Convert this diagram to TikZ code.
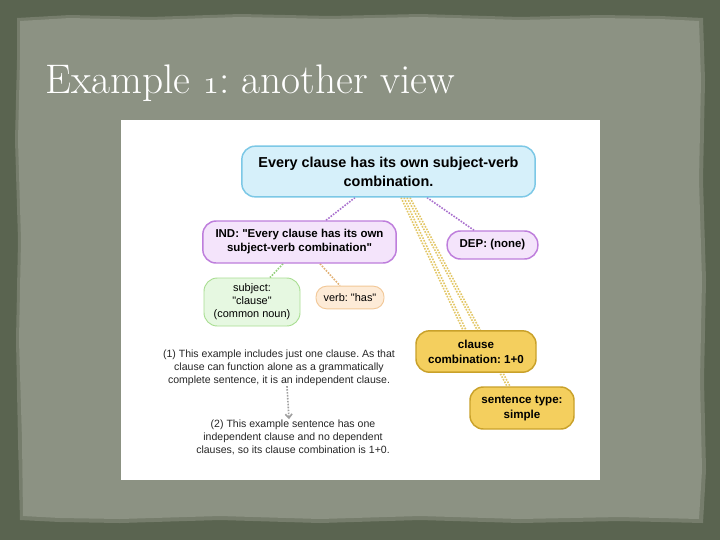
\documentclass[tikz,border=0pt]{standalone}
\usepackage{fontspec}
\newfontfamily\dsans{Liberation Sans}
\usetikzlibrary{arrows.meta}
\pgfdeclarelayer{bg}
\pgfdeclarelayer{edges}
\pgfsetlayers{bg,edges,main}
\frenchspacing
\definecolor{outerbg}{HTML}{5A6450}
\definecolor{paper}{HTML}{8C9283}
\definecolor{paperrim}{HTML}{767D6C}
\definecolor{bluefill}{HTML}{D6F0FA}
\definecolor{blueline}{HTML}{7CC8E6}
\definecolor{purfill}{HTML}{F4E4FB}
\definecolor{purline}{HTML}{BE7EDC}
\definecolor{grnfill}{HTML}{E6F8E1}
\definecolor{grnline}{HTML}{A9DE92}
\definecolor{orfill}{HTML}{FDEBD7}
\definecolor{orline}{HTML}{F2C898}
\definecolor{yelfill}{HTML}{F4CF5E}
\definecolor{yelline}{HTML}{C9A12A}
\definecolor{yelconn}{HTML}{E3C767}
\definecolor{purconn}{HTML}{A96FCE}
\definecolor{grnconn}{HTML}{93CF7C}
\definecolor{orconn}{HTML}{E2B073}
\tikzset{
  box/.style={rounded corners=10pt, line width=1.1pt, align=center, inner sep=0pt},
  bluebox/.style={box, fill=bluefill, draw=blueline, font=\dsans\bfseries\fontsize{10.8}{14.2}\selectfont},
  purbox/.style={box, fill=purfill, draw=purline, font=\dsans\bfseries\fontsize{8.6}{10.5}\selectfont},
  grnbox/.style={box, fill=grnfill, draw=grnline, line width=0.7pt, font=\dsans\fontsize{8.2}{9.75}\selectfont},
  orbox/.style={box, fill=orfill, draw=orline, line width=0.7pt, font=\dsans\fontsize{8.2}{9.75}\selectfont},
  yelbox/.style={box, fill=yelfill, draw=yelline, font=\dsans\bfseries\fontsize{8.7}{11.2}\selectfont},
  note/.style={align=center, inner sep=0pt, font=\dsans\fontsize{7.9}{9.75}\selectfont, text=black!85},
  conn/.style={densely dotted, line width=1.2pt},
}
\newcommand{\osone}{{\fontencoding{OML}\fontfamily{cmm}\fontseries{m}\fontshape{it}\selectfont 1}}
\begin{document}
\begin{tikzpicture}[x=0.75pt,y=-0.75pt]
\useasboundingbox (0,0) rectangle (720,540);
\begin{pgfonlayer}{bg}
\fill[outerbg] (0,0) rectangle (720,540);
\fill[paperrim] (17,18) -- (70,15) -- (150,17) -- (240,14) -- (330,16) -- (420,14) -- (520,17) -- (600,15) -- (660,16) -- (703,18)
  -- (705,80) -- (703,180) -- (706,280) -- (704,380) -- (706,470) -- (703,523)
  -- (620,521) -- (520,523) -- (420,520) -- (320,523) -- (220,520) -- (120,523) -- (60,522) -- (20,520)
  -- (18,440) -- (16,340) -- (18,240) -- (15,140) -- (17,60) -- cycle;
\fill[paper] (20,21) -- (70,18) -- (150,20) -- (240,17) -- (330,19) -- (420,17) -- (520,20) -- (600,18) -- (660,19) -- (699,21)
  -- (701,80) -- (699,180) -- (702,280) -- (700,380) -- (702,470) -- (699,519)
  -- (620,517) -- (520,519) -- (420,516) -- (320,519) -- (220,516) -- (120,519) -- (60,518) -- (23,516)
  -- (22,440) -- (19,340) -- (21,240) -- (18,140) -- (20,60) -- cycle;
\fill[white] (121,120) rectangle (600,480);
\end{pgfonlayer}
% title
\node[anchor=base west, inner sep=0pt, text=white, font=\fontsize{31}{36}\selectfont] (title) at (45,93)
  {Example \osone: another view};
% nodes
\node[bluebox, minimum width=220pt, minimum height=38pt] (top) at (388.5,171.5)
  {Every clause has its own subject-verb\\combination.};
\node[purbox, minimum width=145pt, minimum height=31.5pt] (ind) at (299.5,242)
  {IND: "Every clause has its own\\subject-verb combination"};
\node[purbox, minimum width=68pt, minimum height=21pt] (dep) at (492.5,245) {DEP: (none)};
\node[grnbox, minimum width=72pt, minimum height=36pt] (subj) at (252,302)
  {subject:\\"clause"\\(common noun)};
\node[orbox, rounded corners=8pt, minimum width=51pt, minimum height=17pt] (verb) at (350,297.5) {verb: "has"};
\node[yelbox, minimum width=90pt, minimum height=31pt] (comb) at (476,351.5)
  {clause\\combination: 1+0};
\node[yelbox, minimum width=78pt, minimum height=31.5pt] (stype) at (522,408)
  {sentence type:\\simple};
\node[note] (t1) at (279,368)
  {(1) This example includes just one clause. As that\\clause can function alone as a grammatically\\complete sentence, it is an independent clause.};
\node[note] (t2) at (293,437)
  {(2) This example sentence has one\\independent clause and no dependent\\clauses, so its clause combination is 1+0.};
\begin{pgfonlayer}{edges}
\draw[conn, purconn] (top.south -| 355,0) -- (ind.north -| 326,0);
\draw[conn, purconn] (top.south -| 427,0) -- (dep.north -| 474,0);
\draw[conn, grnconn] (ind.south -| 283,0) -- (subj.north -| 270,0);
\draw[conn, orconn] (ind.south -| 320,0) -- (verb.north -| 340,0);
\draw[conn, yelconn] (top.south -| 401,0) -- (comb.north -| 463,0);
\draw[conn, yelconn] (top.south -| 404,0) -- (comb.north -| 466,0);
\draw[conn, yelconn] (top.south -| 407,0) -- (stype.north -| 507,0);
\draw[conn, yelconn] (top.south -| 410,0) -- (stype.north -| 510,0);
\end{pgfonlayer}
\draw[densely dotted, line width=1.2pt, gray!75, -{Straight Barb[length=3pt,width=5pt]}] (t1.south -| 287,0) -- (t2.north -| 289,0);
\end{tikzpicture}
\end{document}
